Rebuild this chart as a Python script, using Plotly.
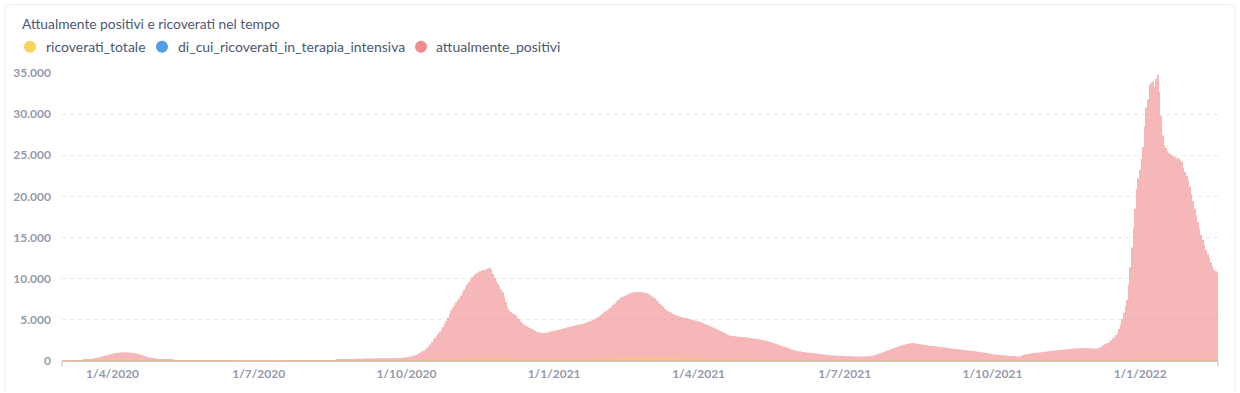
import pandas as pd
import plotly.graph_objects as go

# ---------------- data ----------------
title_text = "Attualmente positivi e ricoverati nel tempo"
series_names = ["ricoverati_totale", "di_cui_ricoverati_in_terapia_intensiva", "attualmente_positivi"]
start_date = "2020-03-01"
end_date = "2022-02-18"

x_tick_dates = ["2020-04-01", "2020-07-01", "2020-10-01", "2021-01-01",
                "2021-04-01", "2021-07-01", "2021-10-01", "2022-01-01"]
x_tick_labels = ["1/4/2020", "1/7/2020", "1/10/2020", "1/1/2021",
                 "1/4/2021", "1/7/2021", "1/10/2021", "1/1/2022"]
y_tick_values = [0, 5000, 10000, 15000, 20000, 25000, 30000, 35000]
y_tick_labels = ["0", "5.000", "10.000", "15.000", "20.000", "25.000", "30.000", "35.000"]

# attualmente_positivi, daily, month by month
pos_2020_03 = [5, 8, 12, 20, 25, 30, 40, 50, 60, 70, 80, 95, 110, 125, 140, 160, 180, 210, 250, 290, 330, 370, 410, 450, 510, 560, 620, 680, 740, 800, 850]
pos_2020_04 = [880, 920, 960, 990, 1010, 1030, 1040, 1045, 1050, 1040, 1030, 1010, 990, 970, 940, 900, 850, 790, 730, 670, 610, 550, 490, 440, 400, 360, 330, 300, 270, 240]
pos_2020_05 = [220, 200, 185, 170, 160, 150, 140, 130, 120, 110, 105, 100, 95, 90, 85, 80, 75, 70, 68, 65, 62, 60, 58, 56, 54, 52, 50, 48, 46, 45, 44]
pos_2020_06 = [43, 42, 41, 40, 40, 39, 38, 37, 36, 35, 34, 33, 32, 31, 30, 30, 29, 28, 28, 27, 27, 26, 26, 25, 25, 25, 24, 24, 24, 23]
pos_2020_07 = [23, 23, 22, 22, 22, 21, 21, 22, 22, 23, 24, 25, 26, 27, 28, 30, 32, 34, 36, 38, 40, 42, 44, 45, 46, 48, 50, 52, 54, 56, 58]
pos_2020_08 = [60, 62, 64, 66, 68, 70, 72, 75, 78, 82, 86, 90, 95, 100, 105, 110, 115, 120, 128, 136, 145, 155, 165, 175, 185, 195, 210, 225, 240, 250, 260]
pos_2020_09 = [270, 275, 280, 285, 290, 295, 300, 305, 310, 315, 318, 320, 322, 325, 328, 330, 332, 335, 338, 340, 343, 346, 350, 355, 360, 365, 372, 380, 390, 410]
pos_2020_10 = [440, 480, 520, 560, 610, 670, 740, 830, 930, 1040, 1160, 1290, 1440, 1600, 1780, 2000, 2300, 2550, 2800, 3050, 3300, 3550, 3800, 4150, 4500, 4850, 5250, 5700, 6150, 6500, 6800]
pos_2020_11 = [7100, 7350, 7600, 7950, 8300, 8650, 8970, 9300, 9600, 9900, 10150, 10350, 10500, 10650, 10800, 10900, 11000, 11050, 11100, 11150, 11250, 11340, 11100, 10600, 10100, 9700, 9400, 9050, 8700, 8350]
pos_2020_12 = [7800, 7200, 6600, 6200, 5950, 5800, 5700, 5550, 5350, 5100, 4850, 4650, 4450, 4300, 4200, 4100, 4000, 3900, 3800, 3700, 3600, 3500, 3450, 3420, 3400, 3400, 3420, 3450, 3500, 3560, 3620]
pos_2021_01 = [3650, 3700, 3750, 3800, 3850, 3900, 3950, 4000, 4050, 4100, 4150, 4200, 4250, 4300, 4350, 4400, 4450, 4480, 4520, 4580, 4650, 4720, 4800, 4880, 4950, 5050, 5150, 5270, 5400, 5550, 5700]
pos_2021_02 = [5850, 6000, 6150, 6300, 6450, 6600, 6800, 7000, 7200, 7400, 7550, 7700, 7800, 7900, 8000, 8100, 8180, 8250, 8300, 8350, 8380, 8400, 8400, 8380, 8350, 8300, 8250, 8200]
pos_2021_03 = [8100, 8000, 7850, 7700, 7550, 7350, 7150, 6950, 6750, 6550, 6350, 6200, 6050, 5950, 5850, 5750, 5650, 5550, 5480, 5400, 5350, 5300, 5250, 5200, 5150, 5100, 5050, 5000, 4950, 4900, 4850]
pos_2021_04 = [4800, 4750, 4680, 4600, 4500, 4420, 4330, 4240, 4150, 4060, 3970, 3880, 3790, 3710, 3610, 3510, 3410, 3300, 3200, 3120, 3080, 3050, 3020, 3000, 2980, 2960, 2940, 2920, 2900, 2880]
pos_2021_05 = [2850, 2830, 2800, 2770, 2740, 2710, 2680, 2640, 2600, 2560, 2520, 2480, 2450, 2400, 2350, 2290, 2230, 2170, 2100, 2030, 1970, 1900, 1830, 1760, 1700, 1640, 1560, 1470, 1390, 1330, 1280]
pos_2021_06 = [1240, 1200, 1160, 1130, 1100, 1070, 1040, 1010, 990, 970, 950, 930, 910, 890, 870, 850, 820, 790, 760, 740, 720, 700, 680, 670, 660, 650, 640, 630, 620, 610]
pos_2021_07 = [600, 590, 580, 575, 565, 560, 555, 550, 545, 545, 545, 550, 555, 560, 570, 580, 595, 620, 660, 710, 770, 840, 910, 980, 1050, 1120, 1200, 1280, 1360, 1440, 1520]
pos_2021_08 = [1580, 1650, 1720, 1780, 1840, 1900, 1960, 2020, 2070, 2110, 2150, 2170, 2160, 2140, 2110, 2080, 2050, 2020, 1990, 1950, 1910, 1880, 1850, 1830, 1810, 1790, 1760, 1730, 1700, 1680, 1660]
pos_2021_09 = [1640, 1610, 1580, 1560, 1530, 1500, 1480, 1460, 1440, 1420, 1400, 1380, 1350, 1320, 1300, 1280, 1260, 1240, 1210, 1180, 1150, 1120, 1100, 1070, 1040, 1010, 980, 950, 910, 870]
pos_2021_10 = [830, 800, 780, 760, 740, 720, 700, 680, 660, 640, 620, 610, 600, 590, 570, 550, 530, 510, 600, 690, 760, 820, 860, 890, 920, 940, 960, 980, 1000, 1020, 1040]
pos_2021_11 = [1060, 1080, 1110, 1140, 1170, 1200, 1220, 1250, 1270, 1300, 1320, 1340, 1360, 1380, 1400, 1420, 1440, 1460, 1480, 1500, 1510, 1520, 1530, 1540, 1550, 1560, 1570, 1580, 1570, 1560]
pos_2021_12 = [1550, 1530, 1510, 1500, 1500, 1560, 1650, 1780, 1900, 2000, 2100, 2200, 2300, 2480, 2690, 2900, 3150, 3450, 3880, 4400, 5100, 5850, 6600, 7440, 9300, 11390, 13800, 16140, 18500, 20880, 22200]
pos_2022_01 = [23250, 24600, 26000, 28500, 30800, 31800, 33500, 33800, 34000, 33300, 34300, 34800, 32700, 29800, 27400, 26200, 25900, 25500, 25300, 25100, 24950, 24850, 24750, 24650, 24600, 24400, 24200, 23400, 23000, 22500, 21900]
pos_2022_02 = [21200, 20300, 19400, 18500, 17700, 16900, 16100, 15350, 14700, 14100, 13500, 12980, 12500, 12000, 11500, 11100, 10900, 10800]

# ricoverati_totale, daily
ric_2020_03 = [0, 0, 1, 2, 3, 5, 7, 10, 14, 18, 23, 28, 34, 40, 48, 56, 64, 72, 80, 90, 100, 110, 120, 130, 140, 150, 160, 170, 180, 190, 195]
ric_2020_04 = [200, 205, 210, 212, 214, 215, 214, 212, 208, 204, 198, 192, 185, 178, 170, 162, 154, 146, 138, 130, 122, 115, 108, 101, 95, 90, 85, 80, 76, 72]
ric_2020_05 = [68, 64, 60, 57, 54, 51, 48, 45, 42, 40, 38, 36, 34, 32, 30, 28, 27, 26, 25, 24, 23, 22, 21, 20, 19, 18, 17, 16, 15, 14, 13]
ric_2020_06 = [12, 12, 11, 11, 10, 10, 9, 9, 9, 8, 8, 8, 7, 7, 7, 6, 6, 6, 6, 5, 5, 5, 5, 5, 4, 4, 4, 4, 4, 4]
ric_2020_07 = [4, 4, 4, 4, 4, 4, 4, 5, 5, 5, 5, 5, 5, 5, 6, 6, 6, 6, 6, 7, 7, 7, 7, 8, 8, 8, 8, 9, 9, 9, 10]
ric_2020_08 = [10, 10, 11, 11, 11, 12, 12, 12, 13, 13, 14, 14, 15, 15, 16, 16, 17, 17, 18, 18, 19, 19, 20, 20, 21, 21, 22, 22, 23, 23, 24]
ric_2020_09 = [24, 25, 25, 26, 26, 27, 27, 28, 28, 29, 29, 30, 30, 31, 31, 32, 32, 33, 34, 35, 36, 37, 38, 39, 40, 41, 42, 44, 46, 48]
ric_2020_10 = [50, 53, 56, 60, 64, 68, 72, 77, 82, 88, 94, 100, 107, 114, 121, 129, 137, 145, 154, 163, 172, 182, 192, 202, 213, 224, 235, 246, 257, 268, 280]
ric_2020_11 = [292, 304, 316, 328, 340, 350, 360, 370, 380, 388, 396, 404, 412, 420, 426, 432, 438, 442, 446, 448, 450, 448, 444, 440, 434, 428, 420, 412, 404, 396]
ric_2020_12 = [388, 380, 372, 364, 356, 350, 344, 338, 332, 326, 320, 316, 312, 308, 304, 300, 298, 296, 294, 292, 290, 290, 290, 290, 290, 291, 292, 294, 296, 298, 300]
ric_2021_01 = [302, 304, 306, 308, 310, 312, 314, 316, 318, 320, 322, 324, 326, 328, 330, 332, 334, 336, 338, 340, 342, 344, 346, 348, 350, 354, 358, 362, 366, 370, 375]
ric_2021_02 = [380, 388, 396, 404, 412, 420, 428, 436, 444, 452, 460, 468, 476, 484, 492, 500, 508, 514, 520, 526, 532, 536, 540, 544, 548, 550, 552, 554]
ric_2021_03 = [555, 556, 556, 555, 554, 552, 550, 547, 544, 540, 536, 531, 526, 520, 514, 507, 500, 492, 484, 476, 468, 459, 450, 441, 432, 423, 414, 405, 396, 388, 380]
ric_2021_04 = [372, 364, 356, 348, 340, 332, 324, 316, 308, 300, 292, 284, 276, 268, 260, 252, 244, 236, 228, 220, 213, 206, 199, 192, 186, 180, 174, 168, 162, 156]
ric_2021_05 = [150, 145, 140, 135, 130, 126, 122, 118, 114, 110, 106, 102, 98, 95, 92, 89, 86, 83, 80, 78, 76, 74, 72, 70, 68, 66, 64, 62, 60, 58, 56]
ric_2021_06 = [54, 52, 50, 48, 46, 45, 44, 43, 42, 41, 40, 39, 38, 37, 36, 35, 34, 33, 32, 31, 30, 30, 29, 29, 28, 28, 27, 27, 26, 26]
ric_2021_07 = [26, 26, 25, 25, 25, 25, 25, 25, 25, 25, 25, 26, 26, 26, 27, 27, 28, 28, 29, 30, 31, 32, 33, 34, 35, 36, 37, 38, 40, 42, 44]
ric_2021_08 = [46, 48, 50, 52, 54, 56, 58, 60, 62, 64, 66, 68, 70, 71, 72, 73, 74, 74, 75, 75, 75, 75, 74, 74, 73, 72, 71, 70, 69, 68, 67]
ric_2021_09 = [66, 65, 64, 63, 62, 61, 60, 59, 58, 57, 56, 55, 54, 53, 52, 51, 50, 49, 48, 47, 46, 45, 44, 43, 42, 41, 40, 39, 38, 37]
ric_2021_10 = [36, 35, 34, 34, 33, 33, 32, 32, 31, 31, 30, 30, 30, 29, 29, 29, 28, 28, 28, 28, 28, 29, 29, 30, 30, 31, 31, 32, 32, 33, 34]
ric_2021_11 = [35, 36, 37, 38, 39, 40, 41, 42, 43, 44, 45, 46, 47, 48, 49, 50, 51, 52, 53, 54, 55, 56, 57, 58, 59, 60, 61, 62, 63, 64]
ric_2021_12 = [65, 66, 67, 68, 69, 70, 72, 74, 76, 78, 80, 82, 84, 86, 88, 90, 92, 94, 96, 98, 100, 103, 106, 109, 112, 116, 120, 124, 128, 133, 138]
ric_2022_01 = [143, 148, 154, 160, 166, 172, 178, 184, 190, 196, 202, 208, 214, 220, 225, 230, 235, 240, 244, 248, 252, 255, 258, 260, 262, 263, 264, 264, 264, 263, 262]
ric_2022_02 = [260, 258, 256, 254, 252, 250, 247, 244, 241, 238, 235, 232, 229, 226, 223, 220, 217, 214]

# di_cui_ricoverati_in_terapia_intensiva, daily
icu_2020_03 = [0, 0, 0, 0, 1, 1, 2, 2, 3, 4, 5, 6, 7, 8, 10, 12, 14, 16, 18, 20, 22, 24, 26, 28, 30, 32, 34, 36, 38, 40, 41]
icu_2020_04 = [42, 43, 44, 44, 45, 45, 44, 44, 43, 42, 41, 40, 38, 36, 34, 32, 30, 28, 26, 24, 22, 20, 18, 17, 16, 15, 14, 13, 12, 11]
icu_2020_05 = [10, 10, 9, 9, 8, 8, 7, 7, 6, 6, 5, 5, 5, 4, 4, 4, 3, 3, 3, 3, 2, 2, 2, 2, 2, 2, 1, 1, 1, 1, 1]
icu_2020_06 = [1, 1, 1, 1, 1, 1, 1, 1, 1, 1, 1, 1, 1, 1, 1, 0, 0, 0, 0, 0, 0, 0, 0, 0, 0, 0, 0, 0, 0, 0]
icu_2020_07 = [0, 0, 0, 0, 0, 0, 0, 0, 0, 0, 0, 0, 0, 0, 0, 0, 1, 1, 1, 1, 1, 1, 1, 1, 1, 1, 1, 1, 1, 1, 1]
icu_2020_08 = [1, 1, 1, 1, 1, 1, 1, 1, 1, 1, 1, 1, 1, 1, 1, 2, 2, 2, 2, 2, 2, 2, 2, 2, 2, 2, 2, 2, 2, 2, 2]
icu_2020_09 = [2, 2, 2, 2, 2, 3, 3, 3, 3, 3, 3, 3, 3, 4, 4, 4, 4, 4, 4, 4, 5, 5, 5, 5, 5, 5, 5, 6, 6, 6]
icu_2020_10 = [6, 7, 7, 8, 8, 9, 9, 10, 11, 12, 13, 14, 15, 16, 17, 18, 19, 20, 21, 22, 23, 24, 25, 26, 28, 30, 32, 34, 36, 38, 40]
icu_2020_11 = [42, 44, 46, 48, 50, 52, 54, 56, 58, 60, 62, 64, 66, 68, 70, 71, 72, 73, 74, 75, 75, 75, 74, 74, 73, 72, 71, 70, 69, 68]
icu_2020_12 = [67, 66, 65, 64, 63, 62, 61, 60, 59, 58, 57, 56, 55, 54, 53, 52, 52, 51, 51, 50, 50, 50, 50, 50, 50, 50, 50, 50, 50, 50, 50]
icu_2021_01 = [50, 50, 50, 51, 51, 51, 51, 52, 52, 52, 52, 52, 53, 53, 53, 53, 53, 54, 54, 54, 54, 54, 55, 55, 55, 55, 55, 55, 55, 55, 55]
icu_2021_02 = [56, 57, 58, 59, 60, 61, 62, 63, 64, 65, 66, 67, 68, 69, 70, 71, 72, 73, 74, 75, 76, 77, 78, 79, 80, 81, 82, 83]
icu_2021_03 = [84, 85, 85, 85, 85, 84, 84, 83, 83, 82, 81, 80, 79, 78, 77, 76, 75, 74, 73, 72, 71, 70, 69, 68, 67, 66, 65, 64, 63, 62, 61]
icu_2021_04 = [60, 59, 58, 57, 56, 55, 54, 53, 52, 51, 50, 49, 48, 47, 46, 45, 44, 43, 42, 41, 40, 39, 38, 37, 36, 35, 34, 33, 32, 31]
icu_2021_05 = [30, 29, 28, 28, 27, 26, 25, 24, 23, 22, 21, 20, 20, 19, 18, 17, 16, 16, 15, 15, 14, 14, 13, 13, 12, 12, 11, 11, 11, 10, 10]
icu_2021_06 = [10, 10, 9, 9, 9, 8, 8, 8, 7, 7, 7, 6, 6, 6, 6, 5, 5, 5, 5, 5, 5, 4, 4, 4, 4, 4, 4, 4, 4, 4]
icu_2021_07 = [4, 4, 4, 4, 4, 4, 4, 4, 4, 4, 4, 4, 4, 4, 4, 4, 4, 4, 4, 4, 4, 5, 5, 5, 5, 5, 5, 6, 6, 6, 6]
icu_2021_08 = [6, 7, 7, 7, 7, 8, 8, 8, 8, 9, 9, 9, 9, 10, 10, 10, 10, 10, 10, 10, 10, 10, 10, 10, 10, 9, 9, 9, 9, 9, 9]
icu_2021_09 = [9, 9, 9, 9, 8, 8, 8, 8, 8, 8, 8, 7, 7, 7, 7, 7, 7, 7, 7, 6, 6, 6, 6, 6, 6, 6, 6, 6, 6, 6]
icu_2021_10 = [6, 6, 6, 5, 5, 5, 5, 5, 5, 5, 5, 5, 4, 4, 4, 4, 4, 4, 4, 4, 4, 4, 4, 4, 4, 4, 4, 4, 4, 4, 4]
icu_2021_11 = [4, 4, 4, 4, 4, 5, 5, 5, 5, 5, 5, 5, 5, 6, 6, 6, 6, 6, 6, 6, 6, 7, 7, 7, 7, 7, 7, 8, 8, 8]
icu_2021_12 = [8, 8, 8, 9, 9, 9, 9, 10, 10, 10, 10, 11, 11, 11, 12, 12, 12, 13, 13, 13, 14, 14, 14, 15, 15, 15, 16, 16, 17, 17, 18]
icu_2022_01 = [18, 19, 19, 20, 20, 21, 21, 22, 22, 23, 23, 24, 24, 25, 25, 25, 26, 26, 26, 26, 26, 26, 26, 26, 25, 25, 25, 25, 25, 24, 24]
icu_2022_02 = [24, 24, 24, 23, 23, 23, 23, 22, 22, 22, 22, 21, 21, 21, 21, 20, 20, 20]

months = ["2020_03", "2020_04", "2020_05", "2020_06", "2020_07", "2020_08", "2020_09", "2020_10",
          "2020_11", "2020_12", "2021_01", "2021_02", "2021_03", "2021_04", "2021_05", "2021_06",
          "2021_07", "2021_08", "2021_09", "2021_10", "2021_11", "2021_12", "2022_01", "2022_02"]
g = globals()
positivi = [v for m in months for v in g["pos_" + m]]
ricoverati = [v for m in months for v in g["ric_" + m]]
intensiva = [v for m in months for v in g["icu_" + m]]
dates = pd.date_range(start_date, end_date, freq="D")
assert len(dates) == len(positivi) == len(ricoverati) == len(intensiva)

# ---------------- style / layout ----------------
W, H = 1240, 393
L, R, T, B = 62, 22, 73, 25
PW, PH = W - L - R, H - T - B

def px(x):
    return (x - L) / PW

def py(y):
    return (H - B - y) / PH

YELLOW, BLUE, PINK = "#F9D45C", "#509EE3", "#EF8C8C"
colors = [YELLOW, BLUE, PINK]
TEXT = "#4C5773"
TICK = "#949AAB"
FONT = "Lato"

fig = go.Figure()
# overlaid bars: intensive care underneath, positives, then hospitalised tint at the base
fig.add_trace(go.Bar(x=dates, y=intensiva, name=series_names[1],
                     marker=dict(color=BLUE, line=dict(width=0)), opacity=0.35))
fig.add_trace(go.Bar(x=dates, y=positivi, name=series_names[2],
                     marker=dict(color=PINK, line=dict(width=0)), opacity=0.62))
fig.add_trace(go.Bar(x=dates, y=ricoverati, name=series_names[0],
                     marker=dict(color=YELLOW, line=dict(width=0)), opacity=0.35))

fig.update_layout(
    width=W, height=H,
    margin=dict(l=L, r=R, t=T, b=B, pad=0),
    paper_bgcolor="white", plot_bgcolor="white",
    barmode="overlay", bargap=0.3,
    showlegend=False,
    font=dict(family=FONT, color=TEXT),
    xaxis=dict(
        type="date",
        range=["2020-02-29 12:00", "2022-02-18 12:00"],
        tickmode="array", tickvals=x_tick_dates, ticktext=x_tick_labels,
        tickfont=dict(family=FONT, size=12, color=TICK, weight="bold"),
        showgrid=False, zeroline=False,
        showline=True, linecolor="#C3C6CC", linewidth=1,
        ticks="", ticklabelstandoff=2,
    ),
    yaxis=dict(
        range=[0, 35000],
        tickmode="array", tickvals=y_tick_values, ticktext=y_tick_labels,
        tickfont=dict(family=FONT, size=12, color=TICK, weight="bold"),
        showgrid=True, gridcolor="#E9EAEE", griddash="4px,4px", gridwidth=1,
        zeroline=False, showline=False, ticks="", ticklabelstandoff=10,
    ),
)

shapes = []
annotations = []
# card border
shapes.append(dict(type="path", xref="paper", yref="paper",
                   path=f"M {px(5)} {py(400)} L {px(5)} {py(8)} Q {px(5)} {py(3)} {px(10)} {py(3)} "
                        f"L {px(1230)} {py(3)} Q {px(1235)} {py(3)} {px(1235)} {py(8)} L {px(1235)} {py(400)}",
                   line=dict(color="#EBECEF", width=1), layer="below"))
# axis end ticks
for xe in (62, 1218):
    shapes.append(dict(type="line", xref="paper", yref="paper", x0=px(xe), x1=px(xe),
                       y0=py(368), y1=py(374), line=dict(color="#C3C6CC", width=1)))

# title
annotations.append(dict(text=title_text, xref="paper", yref="paper", x=px(20), y=py(22),
                        xanchor="left", yanchor="middle", showarrow=False,
                        font=dict(family=FONT, size=13.8, color=TEXT)))
# legend (circles + labels)
legend_dot_x = [30, 162, 421]
legend_text_x = [44, 176, 434]
for name, col, dx, tx in zip(series_names, colors, legend_dot_x, legend_text_x):
    shapes.append(dict(type="circle", xref="paper", yref="paper",
                       xsizemode="pixel", ysizemode="pixel",
                       xanchor=px(dx), yanchor=py(46), x0=-6, x1=6, y0=-6, y1=6,
                       fillcolor=col, line=dict(width=0)))
    annotations.append(dict(text=name, xref="paper", yref="paper", x=px(tx), y=py(46),
                            xanchor="left", yanchor="middle", showarrow=False,
                            font=dict(family=FONT, size=14, color=TEXT)))

fig.update_layout(shapes=shapes, annotations=annotations)

fig.write_html("out.html", config={"displayModeBar": False},
               post_script="document.body.style.margin='0';document.body.style.overflow='hidden';")
